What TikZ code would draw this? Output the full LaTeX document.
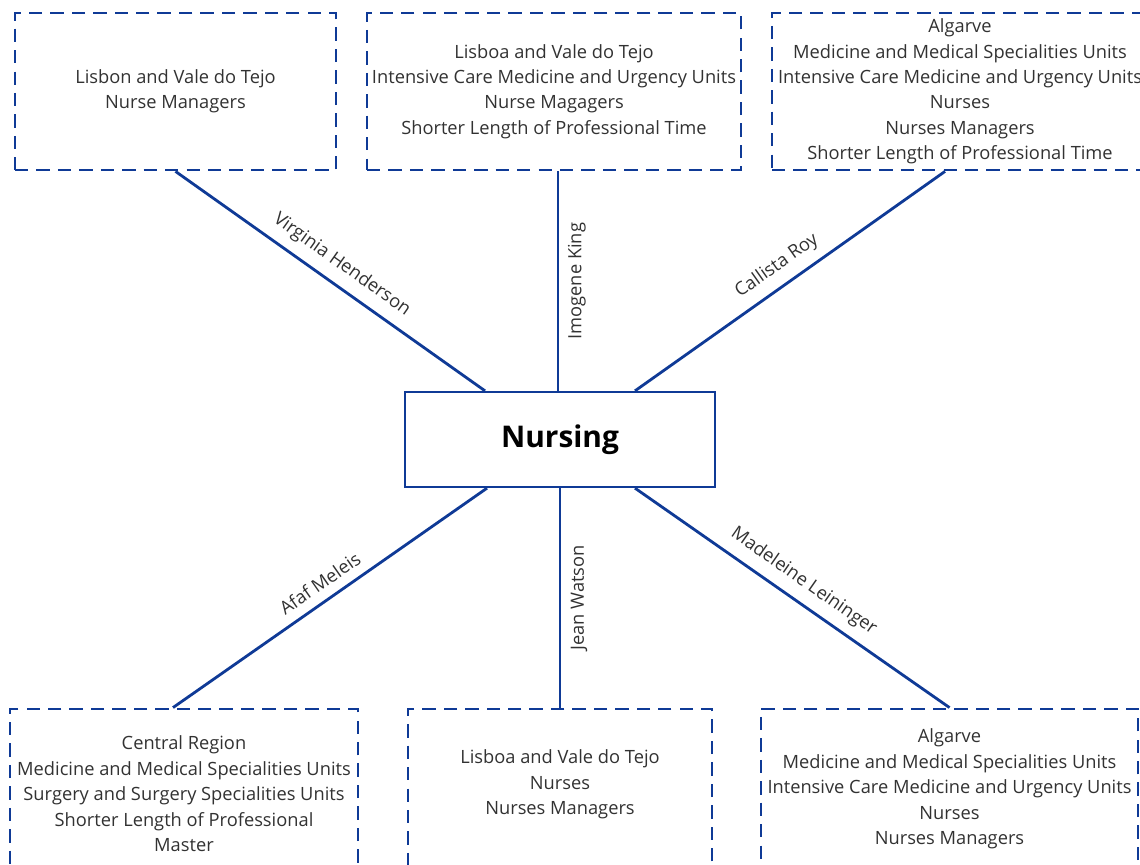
\documentclass[tikz,border=0pt]{standalone}
\usepackage{fontspec}
\setmainfont{Open Sans}
\usetikzlibrary{positioning}
\definecolor{nurseblue}{RGB}{15,58,150}
\definecolor{textgray}{RGB}{50,50,50}

\begin{document}
\begin{tikzpicture}[
    unitbox/.style={draw=nurseblue, line width=1.6pt, dash pattern=on 7.6pt off 4.6pt,
        align=center, text=textgray, inner sep=0pt, font=\fontsize{10.4}{14.5}\selectfont},
    link/.style={draw=nurseblue, line width=1.6pt},
    theorist/.style={sloped, text=textgray, font=\fontsize{10.4}{12}\selectfont}
]
\useasboundingbox (0,0) rectangle (22.8,-17.3);

% centre
\node[draw=nurseblue, line width=1.3pt, minimum width=6.2cm, minimum height=1.9cm,
    font=\fontsize{17}{20}\bfseries\selectfont] (nursing) at (11.2,-8.79) {Nursing};

% top row
\node[unitbox, minimum width=6.42cm, minimum height=3.14cm] (lisbonmgr) at (3.51,-1.83)
    {Lisbon and Vale do Tejo\\Nurse Managers};
\node[unitbox, minimum width=7.48cm, minimum height=3.14cm] (lisboaicu) at (11.08,-1.83)
    {Lisboa and Vale do Tejo\\Intensive Care Medicine and Urgency Units\\Nurse Magagers\\Shorter Length of Professional Time};
\node[unitbox, minimum width=7.52cm, minimum height=3.14cm] (algarvetop) at (19.2,-1.83)
    {Algarve\\Medicine and Medical Specialities Units\\Intensive Care Medicine and Urgency Units\\Nurses\\Nurses Managers\\Shorter Length of Professional Time};

% bottom row
\node[unitbox, minimum width=6.96cm, minimum height=3.4cm] (central) at (3.68,-15.88)
    {Central Region\\Medicine and Medical Specialities Units\\Surgery and Surgery Specialities Units\\Shorter Length of Professional\\Master};
\node[unitbox, minimum width=6.08cm, minimum height=3.4cm, text depth=0.47cm] (lisboanurses) at (11.2,-15.88)
    {Lisboa and Vale do Tejo\\Nurses\\Nurses Managers};
\node[unitbox, minimum width=7.54cm, minimum height=3.2cm] (algarvebot) at (18.99,-15.78)
    {Algarve\\Medicine and Medical Specialities Units\\Intensive Care Medicine and Urgency Units\\Nurses\\Nurses Managers};

% theorists
\draw[link] (lisbonmgr.south) -- node[theorist, above=2pt, pos=0.5] {Virginia Henderson} ([xshift=-1.5cm]nursing.north);
\draw[link] ([xshift=-0.04cm]nursing.north) -- node[theorist, below=1.5pt] {Imogene King} ([xshift=-0.04cm]nursing.north |- lisboaicu.south);
\draw[link] ([xshift=1.5cm]nursing.north) -- node[theorist, above=2pt, pos=0.495] {Callista Roy} ([xshift=-0.3cm]algarvetop.south);
\draw[link] ([xshift=-0.22cm]central.north) -- node[theorist, above=2pt, pos=0.5] {Afaf Meleis} ([xshift=-1.46cm]nursing.south);
\draw[link] (lisboanurses.north) -- node[theorist, below=2pt] {Jean Watson} (nursing.south);
\draw[link] (algarvebot.north) -- node[theorist, above=2pt, pos=0.5] {Madeleine Leininger} ([xshift=1.5cm]nursing.south);
\end{tikzpicture}
\end{document}
